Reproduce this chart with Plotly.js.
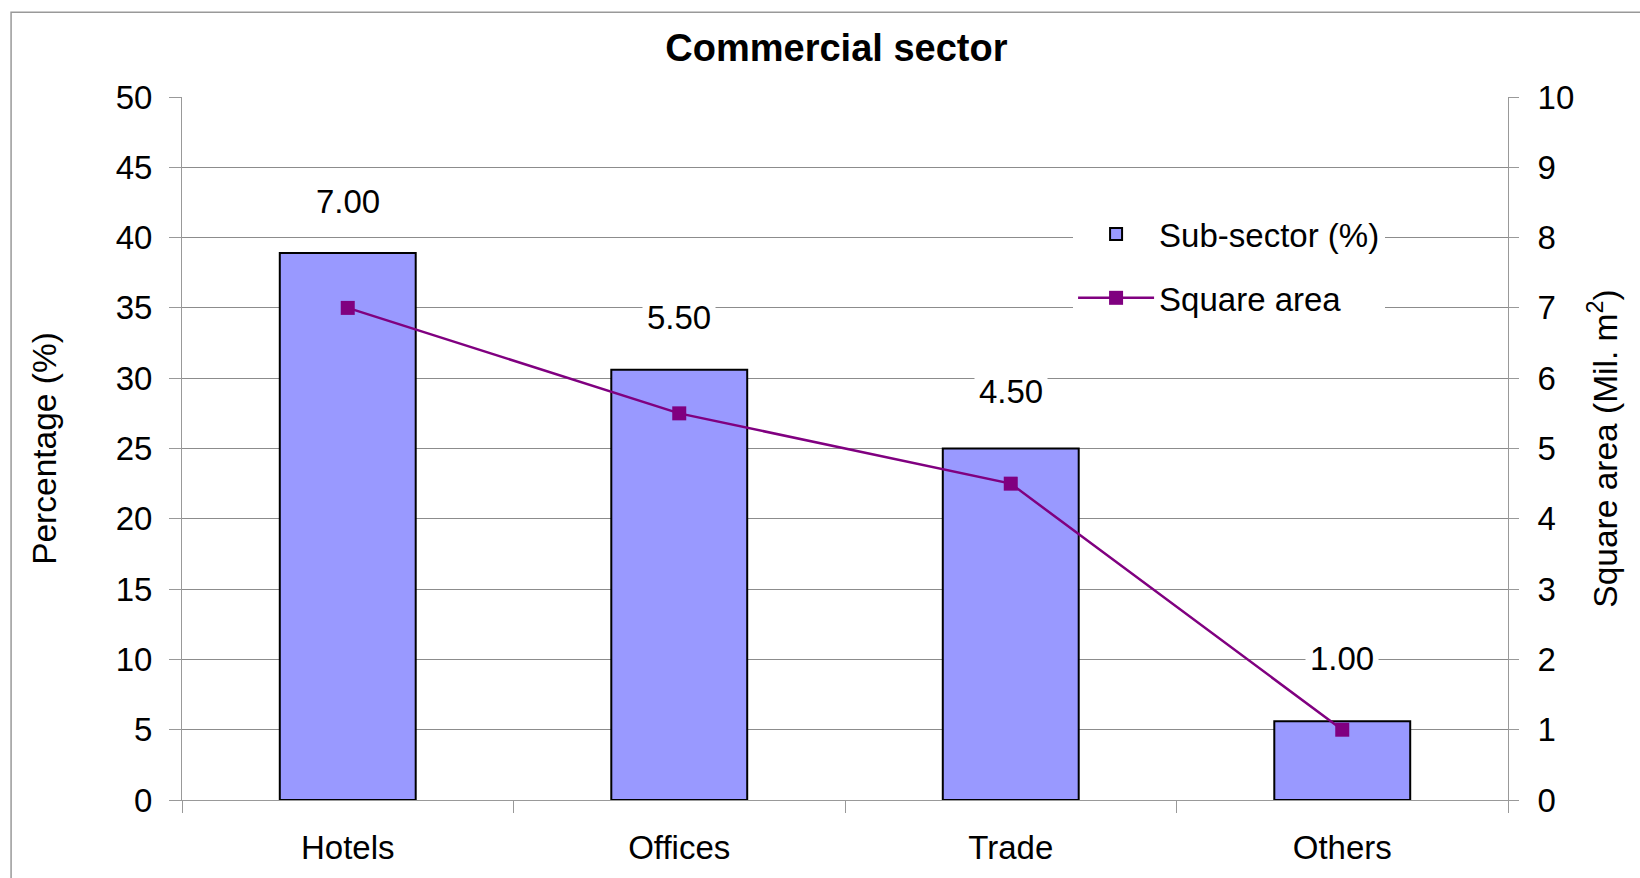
<!DOCTYPE html>
<html>
<head>
<meta charset="utf-8">
<script src="https://cdn.plot.ly/plotly-3.0.1.min.js"></script>
<style>
html,body{margin:0;padding:0;background:#fff;}
#chart{width:1640px;height:878px;}
</style>
</head>
<body>
<div id="chart"></div>
<script>
// ---- data ----
const categories = ["Hotels", "Offices", "Trade", "Others"];
const subSectorPct = [38.9, 30.6, 25.0, 5.6];      // bars, left axis (%)
const squareArea = [7.0, 5.5, 4.5, 1.0];           // line, right axis (Mil. m2)
const leftTicks = [0, 5, 10, 15, 20, 25, 30, 35, 40, 45, 50];
const rightTicks = [0, 1, 2, 3, 4, 5, 6, 7, 8, 9, 10];

// ---- label placement (pixels above bar top) ----
const labelShift = [52, 52, 57, 63];

const FONT = "Liberation Sans, Arial, sans-serif";
const FS = 33;

const traces = [
  {
    type: "bar",
    name: "Sub-sector (%)",
    x: categories,
    y: subSectorPct,
    yaxis: "y",
    legendgroup: "a",
    marker: { color: "#9999FF", line: { color: "#000000", width: 2 } },
    hoverinfo: "x+y"
  },
  {
    type: "scatter",
    mode: "lines+markers",
    name: "Square area",
    x: categories,
    y: squareArea,
    yaxis: "y2",
    legendgroup: "b",
    line: { color: "#800080", width: 2.5 },
    marker: { symbol: "square", size: 14, color: "#800080" }
  }
];

const annotations = categories.map((c, i) => ({
  x: c,
  y: subSectorPct[i],
  xref: "x",
  yref: "y",
  text: squareArea[i].toFixed(2),
  showarrow: false,
  yshift: labelShift[i],
  bgcolor: "#ffffff",
  borderpad: 4,
  font: { family: FONT, size: FS, color: "#000" }
}));

const layout = {
  width: 1640,
  height: 878,
  margin: { l: 182, r: 132, t: 97, b: 78 },
  paper_bgcolor: "#ffffff",
  plot_bgcolor: "#ffffff",
  font: { family: FONT, size: FS, color: "#000" },
  title: {
    text: "<b>Commercial sector</b>",
    font: { family: FONT, size: 38, color: "#000" },
    x: 0.51, xref: "container", xanchor: "center",
    y: 0.9456, yref: "container", yanchor: "middle"
  },
  bargap: 0.59,
  showlegend: true,
  legend: {
    x: 0.672, y: 0.845, xanchor: "left", yanchor: "top",
    bgcolor: "#ffffff",
    font: { family: FONT, size: FS, color: "#000" },
    traceorder: "grouped",
    tracegroupgap: 18,
    itemwidth: 76
  },
  xaxis: {
    type: "category",
    range: [-0.5, 3.5],
    showline: true, linecolor: "#999999", linewidth: 1,
    ticks: "outside", tickson: "boundaries", ticklen: 12, tickcolor: "#999999",
    showgrid: false, zeroline: false,
    tickfont: { family: FONT, size: FS, color: "#000" },
    ticklabelstandoff: 18,
    fixedrange: true
  },
  yaxis: {
    range: [0, 50],
    tickvals: leftTicks,
    ticktext: leftTicks.map(String),
    showline: true, linecolor: "#999999", linewidth: 1,
    ticks: "outside", ticklen: 12, tickcolor: "#999999",
    showgrid: true, gridcolor: "#8c8c8c", gridwidth: 1,
    zeroline: false,
    tickfont: { family: FONT, size: FS, color: "#000" },
    ticklabelstandoff: 10,
    title: { text: "Percentage (%)", font: { family: FONT, size: 33.5, color: "#000" }, standoff: 48 },
    automargin: false,
    fixedrange: true
  },
  yaxis2: {
    range: [0, 10],
    overlaying: "y",
    side: "right",
    tickvals: rightTicks,
    ticktext: rightTicks.map(String),
    showline: true, linecolor: "#999999", linewidth: 1,
    ticks: "outside", ticklen: 10, tickcolor: "#999999",
    showgrid: false, zeroline: false,
    tickfont: { family: FONT, size: FS, color: "#000" },
    ticklabelstandoff: 12,
    title: { text: "Square area (Mil. m<sup>2</sup>)", font: { family: FONT, size: 33.5, color: "#000" }, standoff: 20 },
    automargin: false,
    fixedrange: true
  },
  annotations: annotations,
  shapes: [
    {
      type: "rect", xref: "paper", yref: "paper",
      x0: -0.1289, x1: 1.12, y0: -0.13, y1: 1.1204,
      line: { color: "#999999", width: 1.5 },
      fillcolor: "rgba(0,0,0,0)",
      layer: "below"
    }
  ]
};

Plotly.newPlot("chart", traces, layout, { displayModeBar: false, staticPlot: true });
</script>
</body>
</html>
